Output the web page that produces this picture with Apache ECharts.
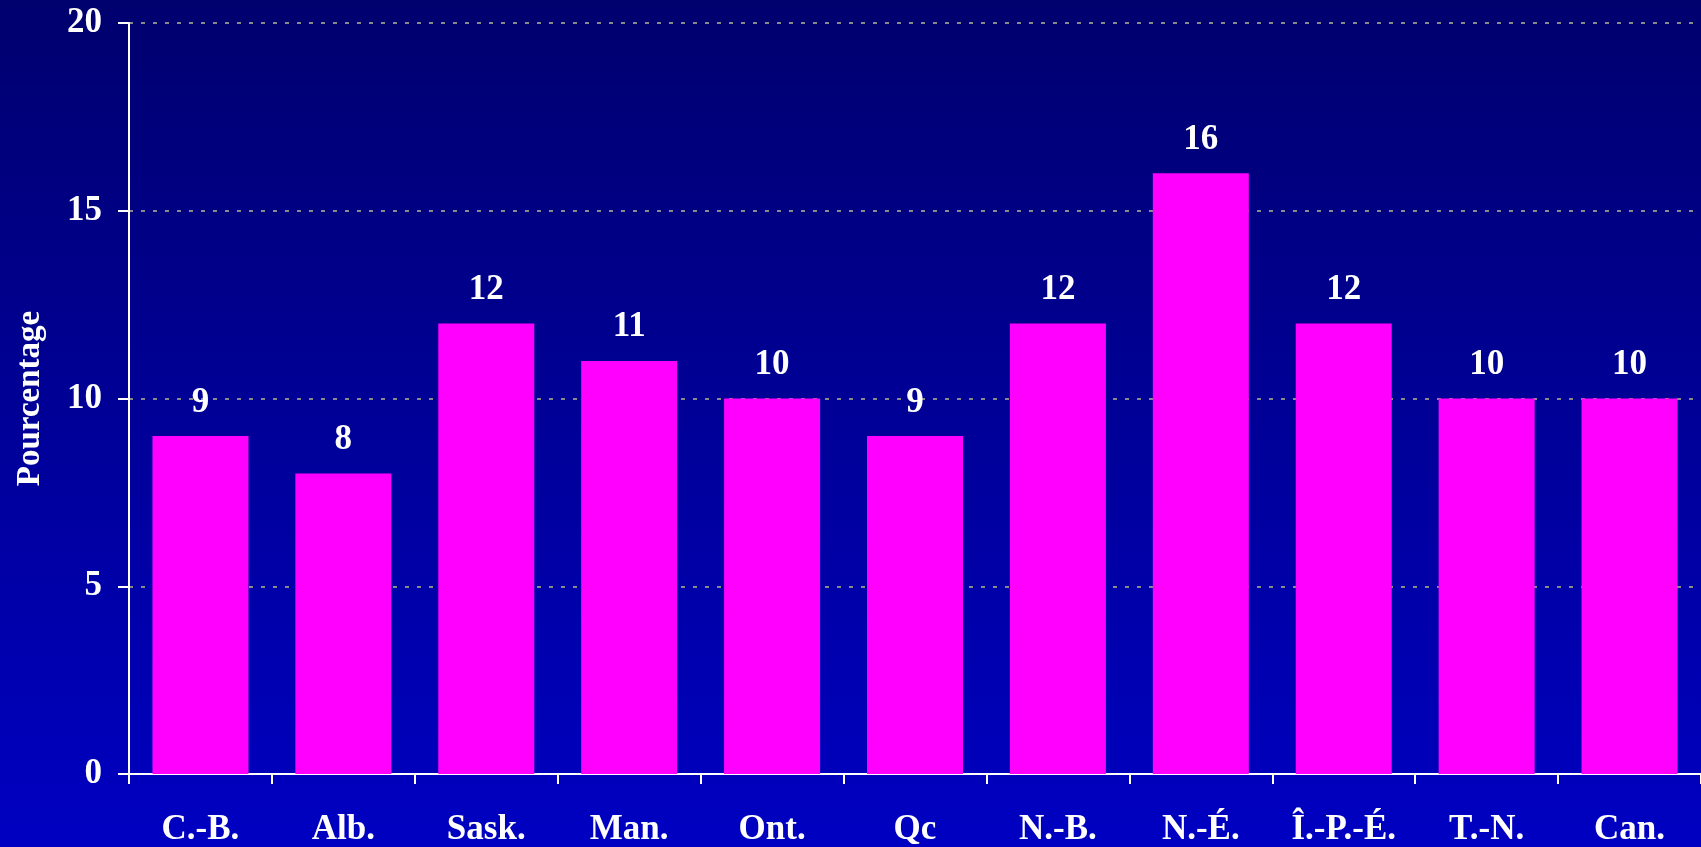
<!DOCTYPE html>
<html>
<head>
<meta charset="utf-8">
<script src="https://cdn.jsdelivr.net/npm/echarts@6/dist/echarts.min.js"></script>
<style>
  html, body { margin: 0; padding: 0; }
  #chart { width: 1701px; height: 847px; }
</style>
</head>
<body>
<div id="chart"></div>
<script>
const provinces = ['C.-B.', 'Alb.', 'Sask.', 'Man.', 'Ont.', 'Qc', 'N.-B.', 'N.-É.', 'Î.-P.-É.', 'T.-N.', 'Can.']
const pourcentages = [9, 8, 12, 11, 10, 9, 12, 16, 12, 10, 10]
const yTicks = [0, 5, 10, 15, 20]

const serif = "'Times New Roman', 'Liberation Serif', serif"

const chart = echarts.init(document.getElementById('chart'))
chart.setOption({
  backgroundColor: {
    type: 'linear',
    x: 0, y: 0, x2: 0, y2: 1,
    colorStops: [
      { offset: 0, color: '#00006e' },
      { offset: 1, color: '#0000c2' },
    ],
  },
  grid: {
    left: 129,
    top: 23,
    width: 1577,
    height: 752,
  },
  xAxis: {
    type: 'category',
    data: provinces,
    axisLine: { lineStyle: { color: '#fff', width: 2 } },
    axisTick: { show: true, length: 10, lineStyle: { color: '#fff', width: 2 } },
    axisLabel: {
      color: '#fff',
      fontFamily: serif,
      fontWeight: 'bold',
      fontSize: 35,
      margin: 38,
      interval: 0,
    },
  },
  yAxis: {
    type: 'value',
    min: yTicks[0],
    max: yTicks[yTicks.length - 1],
    interval: 5,
    name: 'Pourcentage',
    nameLocation: 'middle',
    nameRotate: 90,
    nameGap: 82,
    nameTextStyle: {
      color: '#fff',
      fontFamily: serif,
      fontWeight: 'bold',
      fontSize: 33,
    },
    axisLine: { show: true, lineStyle: { color: '#fff', width: 2 } },
    axisTick: { show: true, length: 11, lineStyle: { color: '#fff', width: 2 } },
    axisLabel: {
      color: '#fff',
      fontFamily: serif,
      fontWeight: 'bold',
      fontSize: 35,
      margin: 27,
    },
    splitLine: {
      show: true,
      lineStyle: { color: '#8a8a8a', width: 2, type: [4, 8] },
    },
  },
  series: [
    {
      type: 'bar',
      data: pourcentages,
      barWidth: 96,
      itemStyle: { color: '#ff00ff' },
      label: {
        show: true,
        position: 'top',
        distance: 16,
        color: '#fff',
        fontFamily: serif,
        fontWeight: 'bold',
        fontSize: 35,
      },
    },
  ],
})
</script>
</body>
</html>
